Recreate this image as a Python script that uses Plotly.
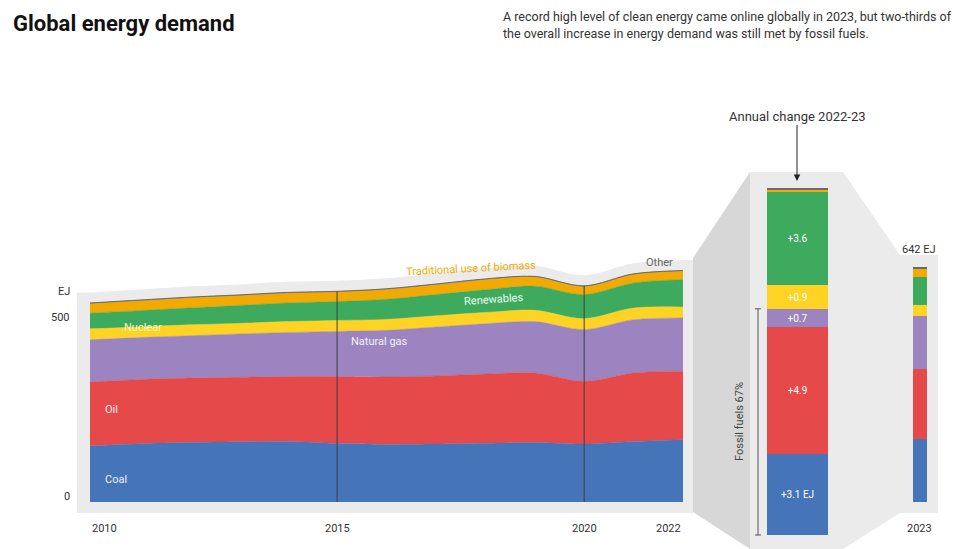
import plotly.graph_objects as go

# ---------------- data ----------------
years = [2010, 2011, 2012, 2013, 2014, 2015, 2016, 2017, 2018, 2019, 2020, 2021, 2022]
coal = [154, 160, 163, 165, 166, 161, 158, 159, 161, 163, 159, 166, 171]
oil = [175, 176, 177, 177, 178, 183, 185, 187, 190, 191, 172, 188, 188]
natural_gas = [116, 115, 116, 119, 121, 124, 128, 134, 138, 141, 142, 146, 146]
nuclear = [30, 29, 30, 29, 30, 30, 30, 31, 31, 31, 30, 32, 30]
renewables = [43, 45, 46, 49, 51, 52, 55, 58, 62, 66, 66, 69, 75]
trad_biomass = [26, 27, 28, 27, 27, 26, 27, 27, 28, 25, 22, 23, 23]
other = [2, 2, 2, 2, 2, 2, 2, 2, 2, 2, 2, 2, 2]

series_names = ["Coal", "Oil", "Natural gas", "Nuclear", "Renewables",
                "Traditional use of biomass", "Other"]
series_values = [coal, oil, natural_gas, nuclear, renewables, trad_biomass, other]
series_colors = ["#4674B9", "#E5494A", "#9B84C0", "#FED324", "#3DAA5E", "#F2A900", "#6B6B6B"]

change_2022_23 = [3.1, 4.9, 0.7, 0.9, 3.6, 0.1, 0.06]
change_labels = ["+3.1 EJ", "+4.9", "+0.7", "+0.9", "+3.6", "", ""]
demand_2023 = [173, 192, 146, 30, 76, 24, 1]
total_2023_label = "642 EJ"
bar_2023_label = "2023"
year_ticks = [2010, 2015, 2020, 2022]
year_tick_anchor = ["left", "center", "center", "right"]
y_ticks = [0, 500]
divider_years = [2015, 2020]
fossil_count = 3
fossil_label = "Fossil fuels 67%"

# ---------------- geometry (styling) ----------------
W, H = 963, 549          # browser window
OX, OY = 8, 8            # default page body margin
FW, FH = W - OX, H - OY  # figure size so that it fits the window exactly
PX_2010, PX_2022 = 90, 683
ppy = (PX_2022 - PX_2010) / (years[-1] - years[0])
x_range = [years[0] - (PX_2010 - OX) / ppy, years[0] + (W - PX_2010) / ppy]
K = 0.3645      # px per EJ, main chart
ZERO_PX = 502
y_range = [-(H - ZERO_PX) / K, (ZERO_PX - OY) / K]
K2 = 26.0       # px per EJ, annual change bar
ZERO2_PX = 535
y2_range = [-(H - ZERO2_PX) / K2, (ZERO2_PX - OY) / K2]


def px(x):
    return (x - OX) / FW


def py(y):
    return 1 - (y - OY) / FH


FONT = "Roboto"
GRAY = "#EBEBEB"
DARK_GRAY = "#D7D7D7"

totals = [sum(v[i] for v in series_values) for i in range(len(years))]

fig = go.Figure()

# halo behind the area chart
pad = 29
halo_x = [years[0] - 13 / ppy] + years + [years[-1] + 10 / ppy]
halo_y = [totals[0] + pad] + [t + pad for t in totals] + [totals[-1] + pad]
fig.add_trace(go.Scatter(x=halo_x, y=halo_y, mode="lines", fill="tozeroy",
                         line=dict(width=0, shape="spline", color=GRAY),
                         fillcolor=GRAY, hoverinfo="skip", showlegend=False))

for name, vals, col in zip(series_names, series_values, series_colors):
    lw = 1.0 if name == "Other" else 0.5
    fig.add_trace(go.Scatter(x=years, y=vals, name=name, stackgroup="main",
                             mode="lines",
                             line=dict(width=lw, shape="spline", smoothing=0.9, color=col),
                             fillcolor=col, hoverinfo="x+y+name", showlegend=False))

# annual change bar
for name, v, lab, col in zip(series_names, change_2022_23, change_labels, series_colors):
    fig.add_trace(go.Bar(x=[0], y=[v], width=1, marker=dict(color=col, line=dict(width=0)),
                         text=[lab], textposition="inside", insidetextanchor="middle",
                         textangle=0, textfont=dict(color="white", size=10, family=FONT),
                         xaxis="x2", yaxis="y2", name=name, showlegend=False))

# 2023 bar
for name, v, col in zip(series_names, demand_2023, series_colors):
    fig.add_trace(go.Bar(x=[0], y=[v], width=1, marker=dict(color=col, line=dict(width=0)),
                         xaxis="x3", yaxis="y", name=name, showlegend=False))

shapes = []
# below-zero part of halo
shapes.append(dict(type="rect", xref="x", yref="y", x0=halo_x[0], x1=halo_x[-1],
                   y0=-(513 - ZERO_PX) / K, y1=0, fillcolor=GRAY, line=dict(width=0),
                   layer="below"))
# annual change panel
shapes.append(dict(type="rect", xref="paper", yref="paper", x0=px(750), x1=px(843),
                   y0=py(549), y1=py(172), fillcolor=GRAY, line=dict(width=0), layer="below"))
# left connector (darker)
shapes.append(dict(type="path", xref="paper", yref="paper",
                   path=f"M {px(693)} {py(258)} L {px(750)} {py(172)} L {px(750)} {py(549)} L {px(693)} {py(512)} Z",
                   fillcolor=DARK_GRAY, line=dict(width=0), layer="below"))
# right connector
shapes.append(dict(type="path", xref="paper", yref="paper",
                   path=f"M {px(843)} {py(172)} L {px(900)} {py(255)} L {px(900)} {py(513)} L {px(843)} {py(549)} Z",
                   fillcolor=GRAY, line=dict(width=0), layer="below"))
# 2023 panel
shapes.append(dict(type="rect", xref="paper", yref="paper", x0=px(900), x1=px(938),
                   y0=py(513), y1=py(255), fillcolor=GRAY, line=dict(width=0), layer="below"))
# divider lines at 2015 / 2020
for yr in divider_years:
    i = years.index(yr)
    shapes.append(dict(type="line", xref="x", yref="y", x0=yr, x1=yr, y0=0, y1=totals[i],
                       line=dict(color="#3F3F3F", width=1), layer="above"))
# fossil bracket
fossil_total = sum(change_2022_23[:fossil_count])
shapes.append(dict(type="line", xref="paper", yref="y2", x0=px(758), x1=px(758),
                   y0=0, y1=fossil_total, line=dict(color="#555", width=1)))
for yv in (0, fossil_total):
    shapes.append(dict(type="line", xref="paper", yref="y2", x0=px(755), x1=px(761),
                       y0=yv, y1=yv, line=dict(color="#555", width=1)))

annotations = []
# title + subtitle
annotations.append(dict(text="<b>Global energy demand</b>", xref="paper", yref="paper",
                        x=px(11), y=py(23), xanchor="left", yanchor="middle", showarrow=False,
                        font=dict(family=FONT, size=22, color="#111")))
for txt, yy in [("A record high level of clean energy came online globally in 2023, but two-thirds of", 17),
                ("the overall increase in energy demand was still met by fossil fuels.", 33)]:
    annotations.append(dict(text=txt, xref="paper", yref="paper", x=px(501), y=py(yy),
                            xanchor="left", yanchor="middle", showarrow=False,
                            font=dict(family=FONT, size=12.5, color="#333")))
# x tick labels
for yr, anc in zip(year_ticks, year_tick_anchor):
    annotations.append(dict(text=str(yr), xref="x", yref="paper", x=yr, y=py(528),
                            xanchor=anc, yanchor="middle", showarrow=False,
                            font=dict(family=FONT, size=11, color="#333")))
# y tick labels
for v in y_ticks:
    annotations.append(dict(text=str(v), xref="paper", yref="y", x=px(72), y=v,
                            xanchor="right", yanchor="middle", showarrow=False,
                            yshift=6 if v == 0 else 2,
                            font=dict(family=FONT, size=11, color="#333")))
annotations.append(dict(text="EJ", xref="paper", yref="paper", x=px(72), y=py(291),
                        xanchor="right", yanchor="middle", showarrow=False,
                        font=dict(family=FONT, size=11, color="#333")))


def dx(p):
    return years[0] + (p - PX_2010) / ppy


def dy(p):
    return (ZERO_PX - p) / K


labels = [
    ("Coal", 103, 479, "left", 0, "#EAF0FA"),
    ("Oil", 103, 409, "left", 0, "#FCEDED"),
    ("Natural gas", 349, 341, "left", 0, "#F4F0FA"),
    ("Nuclear", 122, 327, "left", 0, "#FFF6C8"),
    ("Renewables", 493, 299, "center", -4, "#F0FAF2"),
    ("Traditional use of biomass", 471, 268, "center", -3, "#F2A900"),
    ("Other", 659, 262, "center", 0, "#666666"),
]
for txt, lx, ly, anc, ang, col in labels:
    annotations.append(dict(text=txt, xref="x", yref="y", x=dx(lx), y=dy(ly),
                            xanchor=anc, yanchor="middle", showarrow=False, textangle=ang,
                            font=dict(family=FONT, size=11, color=col)))

# annual change header + arrow
annotations.append(dict(text="Annual change 2022-23", xref="paper", yref="paper",
                        x=px(797), y=py(181), ax=0, ay=-65, showarrow=True,
                        arrowhead=2, arrowsize=1.3, arrowwidth=1, arrowcolor="#222",
                        font=dict(family=FONT, size=13, color="#333")))
annotations.append(dict(text=fossil_label, xref="paper", yref="y2", x=px(740),
                        y=fossil_total / 2, textangle=-90, showarrow=False,
                        xanchor="center", yanchor="middle",
                        font=dict(family=FONT, size=11, color="#444")))
annotations.append(dict(text=total_2023_label, xref="paper", yref="paper", x=px(919),
                        y=py(249), showarrow=False, xanchor="center", yanchor="middle",
                        font=dict(family=FONT, size=11, color="#333")))
annotations.append(dict(text=bar_2023_label, xref="paper", yref="paper", x=px(919),
                        y=py(528), showarrow=False, xanchor="center", yanchor="middle",
                        font=dict(family=FONT, size=11, color="#333")))

fig.update_layout(
    width=FW, height=FH, margin=dict(l=0, r=0, t=0, b=0),
    paper_bgcolor="white", plot_bgcolor="rgba(0,0,0,0)",
    showlegend=False, barmode="stack", bargap=0,
    font=dict(family=FONT),
    xaxis=dict(domain=[0, 1], range=x_range, visible=False, fixedrange=True),
    yaxis=dict(domain=[0, 1], range=y_range, visible=False, fixedrange=True),
    xaxis2=dict(domain=[px(767), px(828)], range=[-0.5, 0.5], visible=False, anchor="y2"),
    yaxis2=dict(domain=[0, 1], range=y2_range, visible=False, anchor="x2"),
    xaxis3=dict(domain=[px(913), px(927)], range=[-0.5, 0.5], visible=False, anchor="y"),
    shapes=shapes, annotations=annotations,
)

fig.write_html("out.html")
